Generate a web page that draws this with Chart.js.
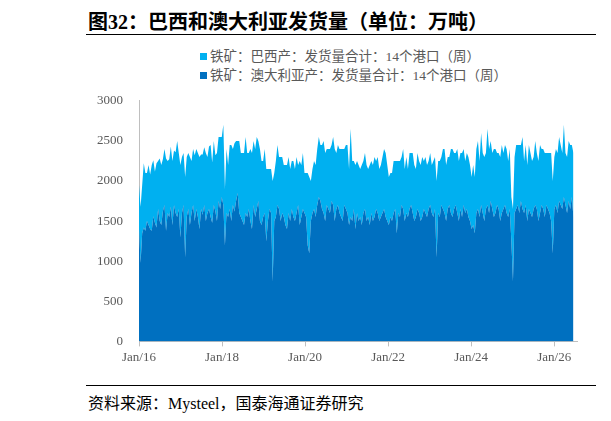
<!DOCTYPE html>
<html><head><meta charset="utf-8">
<script src="https://cdn.jsdelivr.net/npm/chart.js@4/dist/chart.umd.min.js"></script>
<style>
body{margin:0;width:611px;height:421px;background:#fff;position:relative;font-family:"Liberation Serif","Noto Serif CJK SC","Noto Sans CJK SC",serif;overflow:hidden}
#title{position:absolute;left:88px;top:6px;font-size:20px;font-weight:bold;color:#000;font-family:"Liberation Serif","Noto Sans CJK SC",serif}
#tl{position:absolute;left:86px;top:34px;width:510px;border-top:1px solid #000}
#fl{position:absolute;left:86px;top:385px;width:510px;border-top:1px solid #000}
#foot{position:absolute;left:88px;top:390px;font-size:16px;color:#000;font-family:"Liberation Serif","Noto Sans CJK SC",serif}
#leg{position:absolute;left:200px;top:47px;font-size:13.5px;color:#595959;font-family:"Liberation Serif","Noto Sans CJK SC",serif;line-height:19px}
#leg span.b{display:inline-block;width:7px;height:7px;margin-right:3px;vertical-align:1px}
#wrap{position:absolute;left:0;top:85px;width:611px;height:283px}
</style></head><body>
<div id="title">图32：巴西和澳大利亚发货量（单位：万吨）</div>
<div id="tl"></div>
<div id="leg"></div>
<div id="wrap"><canvas id="c"></canvas></div>
<div id="fl"></div>
<div id="foot">资料来源：Mysteel，国泰海通证券研究</div>
<script>
const startYear = 2016;
const stepDays = 14;
const labelsSeries = ["铁矿：澳大利亚产：发货量合计：14个港口（周）","铁矿：巴西产：发货量合计：14个港口（周）"];
const australia = [
1400,980,1350,1420,1380,1500,1450,1400,1380,1560,1480,1420,1650,1500,1450,1620,1700,1380,1600,1550,1680,1450,1700,1600,1550,1650,
1300,1600,1700,1050,1550,1650,1450,1600,1700,1500,1650,1550,1400,1650,1580,1700,1500,1600,1650,1550,1480,1700,1620,1500,1750,1650,
1800,1700,1200,1600,1550,1650,1500,1700,1620,1750,1850,1600,1550,1500,1450,1600,1550,1650,1500,1400,1700,1550,1650,1750,1500,1450,
1550,1600,1250,1500,1650,1600,750,1500,1550,1700,1650,1500,1600,1550,1450,1400,1600,1500,1650,1550,1500,1600,1700,1450,1550,1650,
1600,1550,1200,1100,1500,1600,1650,1550,1700,1800,1750,1650,1600,1500,1700,1650,1600,1750,1700,1500,1650,1700,1600,1550,1500,1700,
1650,1600,1450,1550,1500,1650,1400,1600,1500,1550,1450,1600,1650,1500,1550,1450,1600,1500,1550,1650,1600,1500,1550,1600,1650,1550,
1500,1450,1550,1500,1600,1650,1350,1600,1550,1700,1650,1500,1600,1550,1650,1700,1600,1500,1550,1650,1600,1500,1550,1650,1600,1550,
1650,1700,1600,1550,1650,1050,1600,1550,1700,1650,1600,1500,1650,1700,1600,1550,1650,1700,1600,1500,1650,1550,1700,1600,1650,1550,
1500,1400,1450,1350,1600,1650,1550,1700,1600,1500,1650,1700,1600,1750,1650,1550,1600,1700,1650,1500,1600,1650,1700,1600,1550,1650,
1250,750,1600,1650,1700,1600,1750,1650,1600,1700,1500,1650,1600,1550,1650,1700,1650,1500,1600,1700,1650,1550,1700,1650,1600,1500,
1100,1650,1700,1600,1750,1700,1650,1800,1700,1600,1750,1650,1800,1550];
const brazil = [
550,700,600,800,720,600,750,680,820,700,640,800,600,780,750,650,700,900,650,720,750,800,680,760,950,700,
900,700,650,1000,750,700,850,650,700,820,750,800,900,680,750,720,850,700,780,900,750,800,700,850,800,900,
750,1000,700,800,650,800,950,700,850,750,650,900,800,850,900,950,800,700,900,950,800,850,900,750,900,800,
700,800,900,650,500,550,1250,600,700,750,650,800,700,650,750,800,700,650,600,700,650,700,500,800,650,700,
500,550,900,950,500,550,600,650,700,750,700,800,900,850,700,750,800,700,850,900,700,750,800,850,900,700,
800,850,700,1100,750,600,800,650,700,600,750,650,700,700,600,750,650,700,750,600,700,650,650,700,750,800,
700,600,550,600,650,600,900,650,700,600,750,650,700,600,700,650,750,700,600,700,650,700,750,600,700,650,
600,650,600,700,650,950,650,700,600,750,800,700,650,600,800,850,700,650,800,750,700,800,700,650,700,750,
700,650,750,700,800,850,700,900,750,800,700,950,800,750,700,850,800,650,700,800,850,700,750,800,700,750,
550,900,700,800,750,850,700,900,650,750,700,800,750,700,650,800,700,750,850,700,750,800,650,700,750,850,
900,650,700,750,800,750,700,900,650,700,750,800,650,800];
const yTicks = [0,500,1000,1500,2000,2500,3000];
const xTickYears = [2016,2018,2020,2022,2024,2026];

const toPts = arr => arr.map((v,i)=>({x: startYear + i*stepDays/365.25, y: v}));
const colors = ["#0070C0","#00B0F0"];
document.getElementById('leg').innerHTML =
  `<div><span class="b" style="background:${colors[1]}"></span>${labelsSeries[1]}</div>`+
  `<div><span class="b" style="background:${colors[0]}"></span>${labelsSeries[0]}</div>`;
const tickFont = {family:"'Liberation Serif','Noto Sans CJK SC',serif", size:13};
new Chart(document.getElementById('c'), {
  type:'line',
  data:{datasets:[
    {label:labelsSeries[0], data:toPts(australia), backgroundColor:colors[0], borderColor:colors[0], borderWidth:0, pointRadius:0, fill:'origin', tension:0},
    {label:labelsSeries[1], data:toPts(brazil), backgroundColor:colors[1], borderColor:colors[1], borderWidth:0, pointRadius:0, fill:'-1', tension:0}
  ]},
  options:{
    responsive:true, maintainAspectRatio:false, animation:false,
    layout:{padding:{top:10,right:34,left:0,bottom:0}},
    plugins:{legend:{display:false}, tooltip:{enabled:false}},
    scales:{
      x:{type:'linear', min:2016, max:2026.55,
        afterBuildTicks: s=>{ s.ticks = xTickYears.map(v=>({value:v})); },
        ticks:{color:'#595959', font:tickFont, maxRotation:0, callback:v=>'Jan/'+String(v).slice(2)},
        grid:{display:true, drawOnChartArea:false, tickLength:5, color:'#BFBFBF'},
        border:{color:'#BFBFBF'}},
      y:{stacked:true, min:0, max:3000,
        afterBuildTicks: s=>{ s.ticks = yTicks.map(v=>({value:v})); },
        afterFit: s=>{ s.width = 139; },
        ticks:{color:'#595959', font:tickFont, padding:8, callback:v=>String(v)},
        grid:{display:false}, border:{color:'#BFBFBF'}}
    }
  }
});
</script>
</body></html>
